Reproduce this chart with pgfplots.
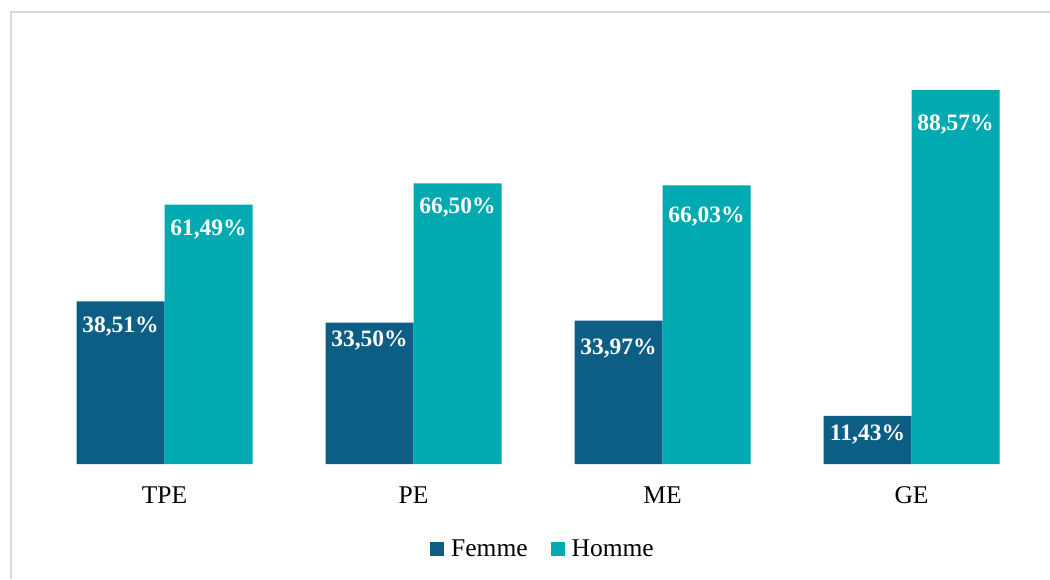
\documentclass[border=0pt]{standalone}
\usepackage{pgfplots}
\pgfplotsset{compat=1.18}
\usepackage{fontspec}
\setmainfont{Liberation Serif}
\definecolor{femme}{RGB}{13,94,133}
\definecolor{homme}{RGB}{0,170,176}
\definecolor{frame}{RGB}{217,217,217}
\begin{document}
\begin{tikzpicture}
\useasboundingbox (0pt,0pt) rectangle (1050pt,-579pt);
\draw[frame, line width=2pt] (11pt,-579pt) -- (11pt,-12pt) -- (1050pt,-12pt);
\begin{axis}[
  at={(40pt,-464pt)}, anchor=south west,
  scale only axis,
  width=996pt, height=422pt,
  xmin=-0.5, xmax=3.5, ymin=0, ymax=100,
  ybar=0pt, bar width=88pt,
  hide y axis,
  axis x line*=bottom,
  x axis line style={draw=none},
  major tick length=0pt,
  xtick={0,1,2,3},
  xticklabels={TPE,PE,ME,GE},
  xticklabel style={font=\fontsize{25.5}{30}\selectfont, anchor=base, yshift=-39pt, inner sep=0pt},
  clip=false,
  nodes near coords={\pgfplotspointmeta\%},
  point meta=explicit symbolic,
  visualization depends on={value \thisrow{off} \as \myoff},
  every node near coord/.append style={font=\fontsize{23.5}{28}\selectfont\bfseries, text=white, anchor=base, inner sep=0pt, yshift=-\myoff pt},
  legend columns=2,
  legend style={draw=none, fill=none, at={(0.504,-0.2014)}, anchor=center,
    font=\fontsize{25.5}{30}\selectfont,
    nodes={inner sep=0pt},
    /tikz/every odd column/.append style={column sep=7pt},
    /tikz/every even column/.append style={column sep=23pt}},
  legend image code/.code={\fill[#1] (0pt,-7pt) rectangle (14pt,7pt);},
]
\addplot[fill=femme, draw=none] table[x=x, y=y, meta=lab] {
x y lab off
0 38.51 38,51 30.6
1 33.50 33,50 23.5
2 33.97 33,97 33.7
3 11.43 11,43 24.7
};
\addplot[fill=homme, draw=none] table[x=x, y=y, meta=lab] {
x y lab off
0 61.49 61,49 31.0
1 66.50 66,50 30.0
2 66.03 66,03 37.5
3 88.57 88,57 40.0
};
\legend{Femme, Homme}
\end{axis}
\end{tikzpicture}
\end{document}
